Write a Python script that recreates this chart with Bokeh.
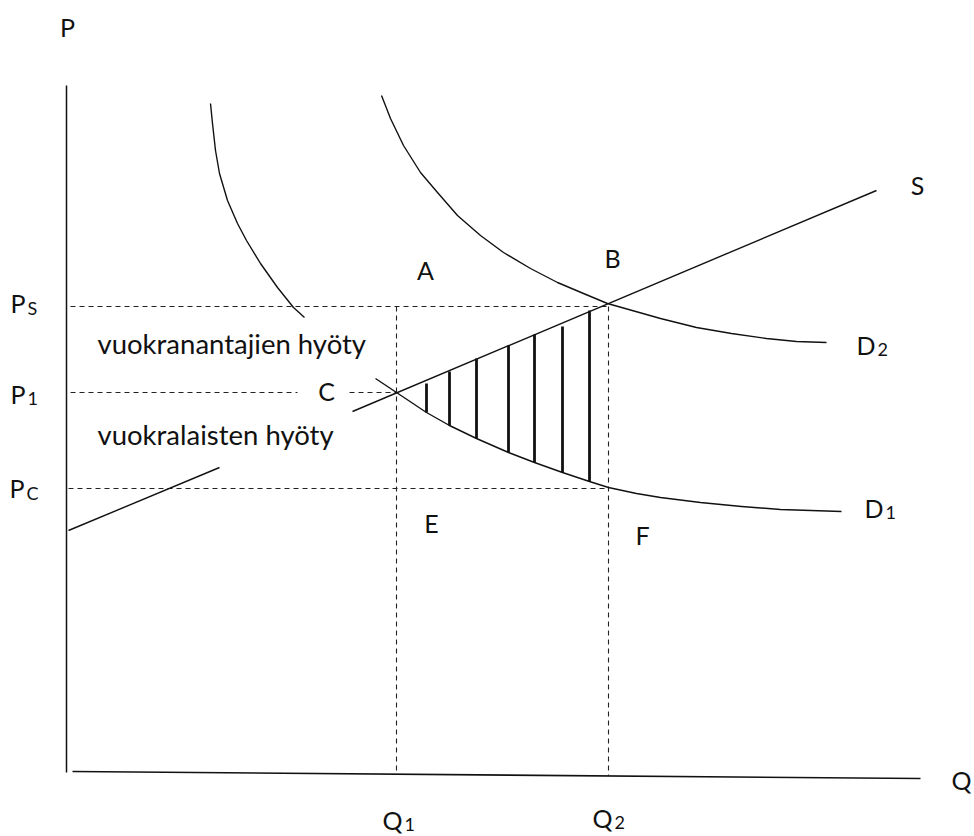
from bokeh.plotting import figure
from bokeh.models import Range1d
from bokeh.core.properties import value
from bokeh.embed import file_html
from bokeh.resources import INLINE

# ---- key levels (arbitrary data units) ----
Q1 = 33.0
Q2 = 54.2
PS = 46.5
P1 = 37.9
PC = 28.3

# ---- axes (hand drawn, slightly tilted x axis) ----
y_axis_q = [0.0, 0.0]
y_axis_p = [-0.1, 68.6]
x_axis_q = [0.6, 85.4]
x_axis_p = [0.0, -0.7]

# ---- supply curve S (drawn in two pieces) ----
supply_lo_q = [0.2, 15.3]
supply_lo_p = [24.1, 30.4]
supply_hi_q = [28.6, 81.0]
supply_hi_p = [36.0, 58.1]

# ---- demand curve D1 (upper and lower piece) ----
d1_upper_q = [14.4, 14.6, 14.9, 15.3, 16.1, 17.1, 18.0, 19.4, 21.1, 22.7, 23.8]
d1_upper_p = [66.8, 64.8, 62.1, 59.8, 57.1, 54.8, 53.1, 50.8, 48.4, 46.4, 45.4]
d1_lower_q = [30.9, 33.0, 36.0, 38.3, 41.0, 44.2, 46.8, 49.6, 52.3, 54.2, 57.0,
              59.4, 63.4, 67.5, 71.4, 77.5]
d1_lower_p = [39.3, 37.9, 35.9, 34.6, 33.3, 31.9, 30.9, 29.9, 29.0, 28.4, 27.8,
              27.4, 26.9, 26.5, 26.2, 26.0]

# ---- demand curve D2 ----
d2_q = [31.5, 32.4, 33.7, 35.4, 37.1, 39.1, 41.4, 43.7, 46.4, 49.1, 51.7, 54.1,
        59.4, 63.0, 66.5, 70.0, 73.0, 76.0]
d2_p = [67.6, 65.3, 62.6, 59.9, 57.9, 55.6, 53.6, 51.9, 50.3, 48.9, 47.8, 46.8,
        45.3, 44.4, 43.8, 43.3, 43.0, 42.9]

# ---- hatching of the welfare-loss triangle ----
hatch_q = [36.0, 38.3, 41.0, 44.2, 46.8, 49.6, 52.3]
hatch_top = [38.8, 40.0, 41.3, 42.6, 43.7, 44.5, 46.1]
hatch_bottom = [35.9, 34.6, 33.3, 31.9, 30.9, 29.9, 29.0]

# ---- dashed guide lines ----
guide_q0 = [0.4, 0.4, 28.3, 0.2, Q1, Q2]
guide_p0 = [PS, P1, P1, PC, PS, PS]
guide_q1 = [Q2, 23.1, Q1, Q2, Q1, Q2]
guide_p1 = [PS, P1, P1, PC, -0.2, -0.4]

# ---- plain labels ----
label_text = ["P", "Q", "A", "B", "C", "E", "F", "S"]
label_q = [0.1, 89.5, 35.9, 54.6, 26.0, 36.5, 57.6, 85.1]
label_p = [73.4, -1.9, 49.1, 50.3, 37.0, 23.8, 22.6, 57.6]

# ---- labels with subscripts (anchor = where letter ends and subscript starts) ----
sub_main = ["P", "P", "P", "D", "D", "Q", "Q"]
sub_small = ["S", "1", "C", "2", "1", "1", "2"]
sub_anchor_q = [-4.0, -4.0, -4.1, 81.0, 81.8, 33.7, 54.7]
sub_main_p = [45.8, 36.7, 27.3, 41.6, 25.3, -5.9, -5.7]
sub_small_p = [45.6, 36.5, 27.1, 41.4, 25.1, -6.1, -5.9]

# ---- area texts ----
area_text = ["vuokranantajien hyöty", "vuokralaisten hyöty"]
area_q = [3.1, 3.1]
area_p = [41.6, 32.5]

FONT = "Lato"

p = figure(width=974, height=836,
           x_range=Range1d(-6.6, 90.8), y_range=Range1d(-6.5, 77.1),
           output_backend="svg", toolbar_location=None,
           x_axis_type=None, y_axis_type=None, min_border=0,
           outline_line_color=None, background_fill_color="white",
           border_fill_color="white")
p.xgrid.visible = False
p.ygrid.visible = False

ink = "#111111"

# axes
p.line(y_axis_q, y_axis_p, line_color=ink, line_width=1.5)
p.line(x_axis_q, x_axis_p, line_color=ink, line_width=1.6)

# dashed guides
p.segment(x0=guide_q0, y0=guide_p0, x1=guide_q1, y1=guide_p1,
          line_color="#222222", line_width=1.1, line_dash="5 4")

# curves
p.line(supply_lo_q, supply_lo_p, line_color=ink, line_width=1.4)
p.line(supply_hi_q, supply_hi_p, line_color=ink, line_width=1.4)
p.line(d1_upper_q, d1_upper_p, line_color=ink, line_width=1.4, line_join="round")
p.line(d1_lower_q, d1_lower_p, line_color=ink, line_width=1.4, line_join="round")
p.line(d2_q, d2_p, line_color=ink, line_width=1.4, line_join="round")

# hatching
p.segment(x0=hatch_q, y0=hatch_bottom, x1=hatch_q, y1=hatch_top,
          line_color=ink, line_width=2.8)

# labels (y_offset compensates the renderer's baseline placement)
p.text(x=label_q, y=label_p, text=label_text, text_font=value(FONT),
       text_font_size="25px", text_align="center", text_baseline="alphabetic",
       text_color=ink, y_offset=-11)
p.text(x=sub_anchor_q, y=sub_main_p, text=sub_main, text_font=value(FONT),
       text_font_size="25px", text_align="right", text_baseline="alphabetic",
       text_color=ink, x_offset=-1, y_offset=-11)
p.text(x=sub_anchor_q, y=sub_small_p, text=sub_small, text_font=value(FONT),
       text_font_size="18px", text_align="left", text_baseline="alphabetic",
       text_color=ink, x_offset=1, y_offset=-8)
p.text(x=area_q, y=area_p, text=area_text, text_font=value(FONT),
       text_font_size="27.5px", text_align="left", text_baseline="alphabetic",
       text_color=ink, y_offset=-12)

open("out.html", "w").write(file_html(p, INLINE))
